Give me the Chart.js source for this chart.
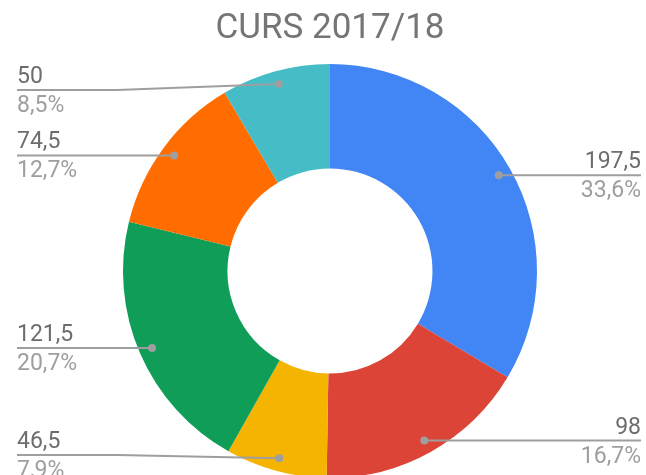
<!DOCTYPE html>
<html>
<head>
<meta charset="utf-8">
<script src="https://cdn.jsdelivr.net/npm/chart.js@4/dist/chart.umd.min.js"></script>
<style>
  html, body { margin: 0; padding: 0; background: #ffffff; overflow: hidden; }
  #wrap { width: 646px; height: 480px; }
</style>
</head>
<body>
<div id="wrap"><canvas id="cursChart" width="646" height="480"></canvas></div>
<script>
const titleText = 'CURS 2017/18';
const sliceNames = ['Grup 1', 'Grup 2', 'Grup 3', 'Grup 4', 'Grup 5', 'Grup 6'];
const sliceValues = [197.5, 98, 46.5, 121.5, 74.5, 50];
const sliceColors = ['#4285f4', '#db4437', '#f4b400', '#0f9d58', '#ff6d01', '#46bdc6'];

const valueColor = '#6d6d6d';
const pctColor = '#9e9e9e';
const lineColor = '#9e9e9e';

function fmt(n) {
  return String(n).replace('.', ',');
}

// Outside labels with leader lines (value above the line, percentage below)
const leaderLabels = {
  id: 'leaderLabels',
  afterDatasetsDraw(chart) {
    const ctx = chart.ctx;
    const meta = chart.getDatasetMeta(0);
    const total = sliceValues.reduce((s, v) => s + v, 0);
    const leftX = 17;
    const rightX = 641;
    const minY = 90;
    const maxY = 455;

    ctx.save();
    meta.data.forEach((arc, i) => {
      const p = arc.getProps(['x', 'y', 'startAngle', 'endAngle', 'outerRadius'], true);
      const mid = (p.startAngle + p.endAngle) / 2;
      const r = p.outerRadius - 13;
      const dx = p.x + Math.cos(mid) * r;
      const dy = p.y + Math.sin(mid) * r;
      const right = Math.cos(mid) >= 0;
      const ly = Math.min(Math.max(dy, minY), maxY);
      const edgeX = right ? rightX : leftX;

      // leader line
      ctx.strokeStyle = lineColor;
      ctx.lineWidth = 2;
      ctx.beginPath();
      ctx.moveTo(edgeX, ly);
      if (Math.abs(ly - dy) > 0.5) {
        const bendX = right ? rightX - 100 : leftX + 100;
        ctx.lineTo(bendX, ly);
      }
      ctx.lineTo(dx, dy);
      ctx.stroke();

      // dot
      ctx.fillStyle = lineColor;
      ctx.beginPath();
      ctx.arc(dx, dy, 4, 0, Math.PI * 2);
      ctx.fill();

      // texts
      ctx.font = '23px Roboto';
      ctx.textAlign = right ? 'right' : 'left';
      ctx.textBaseline = 'alphabetic';
      ctx.fillStyle = valueColor;
      ctx.fillText(fmt(sliceValues[i]), edgeX, ly - 7);
      ctx.fillStyle = pctColor;
      const pct = (sliceValues[i] / total * 100).toFixed(1).replace('.', ',') + '%';
      ctx.fillText(pct, edgeX, ly + 22);
    });
    ctx.restore();
  }
};

const ctx = document.getElementById('cursChart').getContext('2d');
new Chart(ctx, {
  type: 'doughnut',
  data: {
    labels: sliceNames,
    datasets: [{
      data: sliceValues,
      backgroundColor: sliceColors,
      borderWidth: 0
    }]
  },
  options: {
    responsive: false,
    animation: false,
    cutout: '49.5%',
    layout: {
      padding: { left: 123, right: 109, top: 0, bottom: 2 }
    },
    plugins: {
      legend: { display: false },
      tooltip: { enabled: false },
      title: {
        display: true,
        text: titleText,
        color: '#757575',
        font: { family: 'Roboto', size: 35, weight: 'normal' },
        padding: { top: 8, bottom: 14 }
      }
    }
  },
  plugins: [leaderLabels]
});
</script>
</body>
</html>
